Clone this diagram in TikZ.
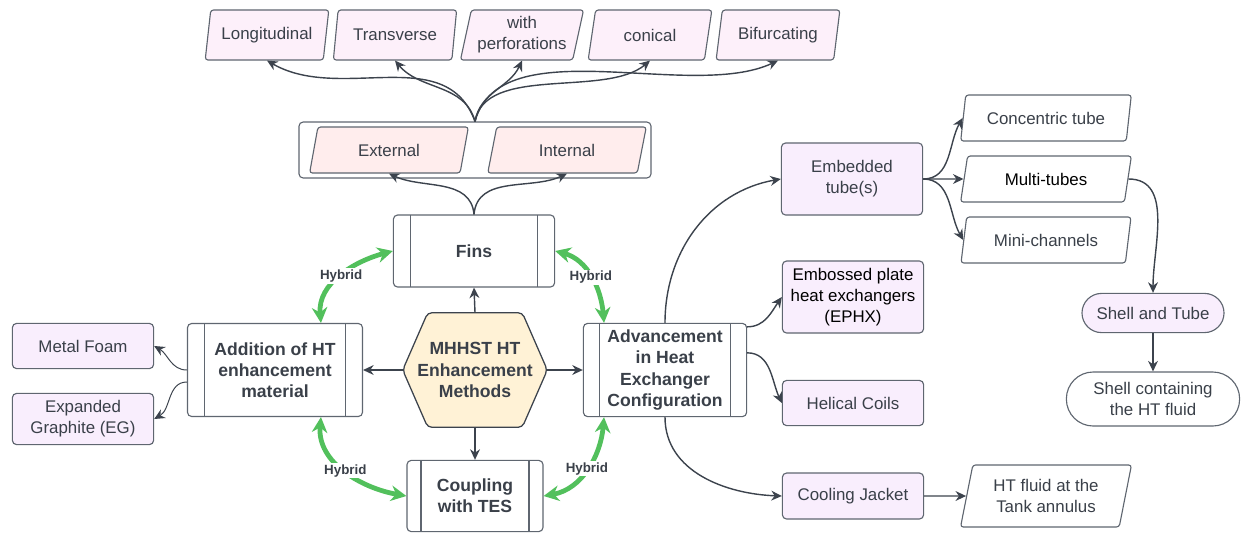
\documentclass[tikz,border=0pt]{standalone}
\usepackage{fontspec}
\setmainfont{Liberation Sans}
\usetikzlibrary{arrows.meta, shapes.geometric, backgrounds}
\definecolor{linegray}{RGB}{95,102,112}
\definecolor{textgray}{RGB}{58,64,73}
\definecolor{arrowgray}{RGB}{60,67,77}
\definecolor{topfill}{RGB}{253,240,250}
\definecolor{finfill}{RGB}{255,237,237}
\definecolor{lavender}{RGB}{249,238,253}
\definecolor{hexfill}{RGB}{255,242,214}
\definecolor{hybridgreen}{RGB}{82,192,92}

\tikzset{
  base/.style={draw=linegray, line width=0.8pt, text=textgray, align=center, font=\fontsize{12}{15}\selectfont},
  para/.style={base, trapezium, trapezium left angle=76, trapezium right angle=104, trapezium stretches=true, rounded corners=2pt, inner sep=1pt},
  optbox/.style={base, rectangle, rounded corners=3pt, fill=lavender, minimum width=3.53cm},
  procbox/.style={base, rectangle, rounded corners=3pt, fill=white, font=\fontsize{12.5}{15}\selectfont\bfseries,
    path picture={\draw[linegray, line width=0.8pt]
      ([xshift=#1]path picture bounding box.north west) -- ([xshift=#1]path picture bounding box.south west)
      ([xshift=-#1]path picture bounding box.north east) -- ([xshift=-#1]path picture bounding box.south east);}},
  procbox/.default=0.4cm,
  pill/.style={base, rectangle, rounded corners=#1},
  link/.style={-{Stealth[length=7.5pt,width=7pt]}, arrowgray, line width=1pt},
  hybrid/.style={{Stealth[length=11pt,width=11pt]}-{Stealth[length=11pt,width=11pt]}, hybridgreen, line width=3.4pt},
  hylabel/.style={fill=white, inner sep=1pt, text=textgray, font=\fontsize{9.5}{11}\selectfont\bfseries},
}

\begin{document}
\begin{tikzpicture}[x=0.025cm, y=0.025cm, >=Stealth]
    \useasboundingbox (0,0) rectangle (1242,-534);

    % Centre hexagon
    \node[font=\fontsize{12.5}{15}\selectfont\bfseries, text=textgray, align=center, minimum width=3.6cm, minimum height=2.85cm] (hex) at (475,-370) {MHHST HT\\Enhancement\\Methods};
    \begin{scope}[on background layer]
        \draw[draw=arrowgray, line width=0.9pt, fill=hexfill, rounded corners=3pt]
            (hex.west) -- ([xshift=0.625cm]hex.north west) -- ([xshift=-0.625cm]hex.north east)
            -- (hex.east) -- ([xshift=-0.625cm]hex.south east) -- ([xshift=0.625cm]hex.south west) -- cycle;
    \end{scope}

    % Main branches
    \node[procbox=0.42cm, minimum width=4.03cm, minimum height=1.8cm] (fins) at (474,-251) {Fins};
    \node[procbox=0.43cm, minimum width=4.375cm, minimum height=2.325cm] (add) at (275,-370) {Addition of HT\\enhancement\\material};
    \node[procbox=0.4cm, minimum width=4.08cm, minimum height=2.33cm] (adv) at (665,-370) {Advancement\\in Heat\\Exchanger\\Configuration};
    \node[procbox=0.35cm, minimum width=3.4cm, minimum height=1.78cm] (coup) at (475,-496) {Coupling\\with TES};

    \draw[link] (hex.north) -- (fins.south);
    \draw[link] (hex.west) -- (add.east);
    \draw[link] (hex.east) -- (adv.west);
    \draw[link] (hex.south) -- (coup.north);

    % Hybrid links
    \draw[hybrid] ([xshift=3.35cm]add.north west) to[out=95, in=195] node[hylabel] {Hybrid} (fins.west);
    \draw[hybrid] (fins.east) to[out=-15, in=95] node[hylabel] {Hybrid} ([xshift=0.53cm]adv.north west);
    \draw[hybrid] ([xshift=3.35cm]add.south west) to[out=-95, in=170] node[hylabel] {Hybrid} (coup.west);
    \draw[hybrid] (coup.east) to[out=10, in=-95] node[hylabel] {Hybrid} ([xshift=0.53cm]adv.south west);

    % Fin types
    \node[base, rectangle, rounded corners=3pt, minimum width=8.8cm, minimum height=1.4cm] (finsgrp) at (475,-150) {};
    \node[para, fill=finfill, minimum width=3.98cm, minimum height=1.15cm] (ext) at (389,-150) {External};
    \node[para, fill=finfill, minimum width=3.98cm, minimum height=1.15cm] (int) at (567,-150) {Internal};
    \draw[link] (fins.north) to[out=95, in=-25] (ext.south);
    \draw[link] (fins.north) to[out=85, in=-155] (int.south);

    \node[para, fill=topfill, minimum width=3.1cm, minimum height=1.25cm] (lon) at (267,-35) {Longitudinal};
    \node[para, fill=topfill, minimum width=3.1cm, minimum height=1.25cm] (tra) at (395,-35) {Transverse};
    \node[para, fill=topfill, minimum width=3.1cm, minimum height=1.25cm] (per) at (522,-35) {with\\perforations};
    \node[para, fill=topfill, minimum width=3.1cm, minimum height=1.25cm] (con) at (650,-35) {conical};
    \node[para, fill=topfill, minimum width=3.1cm, minimum height=1.25cm] (bif) at (778,-35) {Bifurcating};
    \draw[link] (finsgrp.north) to[out=110, in=-30] (lon.south);
    \draw[link] (finsgrp.north) to[out=105, in=-50] (tra.south);
    \draw[link] (finsgrp.north) to[out=80, in=-115] (per.south);
    \draw[link] (finsgrp.north) to[out=80, in=-140, looseness=0.8] (con.south);
    \draw[link] (finsgrp.north) to[out=75, in=-155, looseness=0.8] (bif.south);

    % Materials
    \node[optbox, minimum height=1.13cm] (foam) at (83,-346) {Metal Foam};
    \node[optbox, minimum height=1.28cm] (eg) at (83,-419) {Expanded\\Graphite (EG)};
    \draw[link, line width=0.7pt] (add.west) to[out=180, in=-30] (foam.east);
    \draw[link, line width=0.7pt] ([yshift=-0.3cm]add.west) to[out=180, in=30] (eg.east);

    % Heat exchanger configurations
    \node[optbox, minimum height=1.8cm] (emb) at (852,-179) {Embedded\\tube(s)};
    \node[optbox, minimum height=1.8cm, text=black] (ephx) at (853,-297) {Embossed plate\\heat exchangers\\(EPHX)};
    \node[optbox, minimum height=1.13cm] (hel) at (853,-403) {Helical Coils};
    \node[optbox, minimum height=1.15cm] (cool) at (853,-496) {Cooling Jacket};
    \draw[link] (adv.north) to[out=90, in=190] (emb.west);
    \draw[link] ([yshift=-0.1cm]adv.north east) to[out=0, in=-125] (ephx.west);
    \draw[link] ([yshift=-0.75cm]adv.north east) to[out=0, in=115] (hel.west);
    \draw[link] (adv.south) to[out=-90, in=178] (cool.west);

    \node[para, fill=white, minimum width=4.28cm, minimum height=1.15cm] (conc) at (1046,-118) {Concentric tube};
    \node[para, fill=white, minimum width=4.28cm, minimum height=1.15cm, text=black] (mul) at (1046,-179) {Multi-tubes};
    \node[para, fill=white, minimum width=4.28cm, minimum height=1.15cm] (mini) at (1046,-240) {Mini-channels};
    \draw[link] (emb.east) to[out=0, in=-120] (conc.west);
    \draw[link] (emb.east) -- (mul.west);
    \draw[link] (emb.east) to[out=0, in=120] (mini.west);

    \node[pill=0.49cm, fill=lavender, minimum width=3.55cm, minimum height=0.98cm] (shl) at (1153,-313) {Shell and Tube};
    \node[pill=0.67cm, fill=white, minimum width=4.33cm, minimum height=1.35cm] (shc) at (1153,-399) {Shell containing\\the HT fluid};
    \draw[link] (mul.east) to[out=0, in=90] (shl.north);
    \draw[link] (shl.south) -- (shc.north);

    \node[para, fill=white, minimum width=4.3cm, minimum height=1.55cm] (ann) at (1046,-496) {HT fluid at the\\Tank annulus};
    \draw[link] (cool.east) -- (ann.west);
\end{tikzpicture}
\end{document}
